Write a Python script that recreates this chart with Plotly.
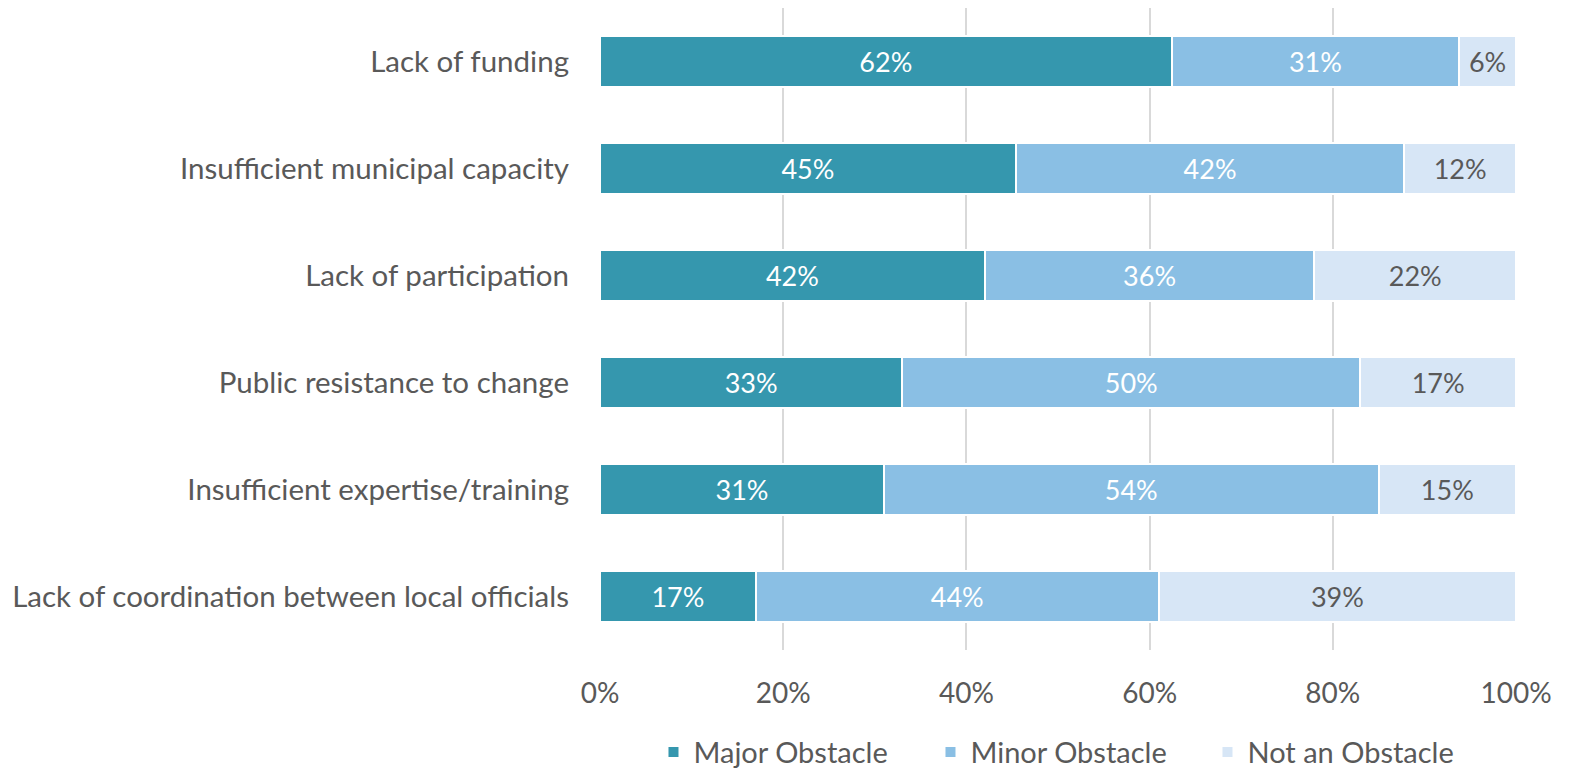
import plotly.graph_objects as go

categories = [
    "Lack of funding",
    "Insufficient municipal capacity",
    "Lack of participation",
    "Public resistance to change",
    "Insufficient expertise/training",
    "Lack of coordination between local officials",
]
major = [62.4, 45.4, 42.0, 33.0, 31.0, 17.0]
minor = [31.4, 42.4, 36.0, 50.0, 54.0, 44.0]
not_obstacle = [6.2, 12.2, 22.0, 17.0, 15.0, 39.0]
series_names = ["Major Obstacle", "Minor Obstacle", "Not an Obstacle"]
tick_vals = [0, 20, 40, 60, 80, 100]
tick_text = ["0%", "20%", "40%", "60%", "80%", "100%"]

colors = ["#3597AE", "#8ABFE4", "#D7E6F6"]
text_colors = ["white", "white", "#595959"]
FONT = "Lato"

fig = go.Figure()
for name, vals, c, tc in zip(series_names, [major, minor, not_obstacle], colors, text_colors):
    fig.add_trace(go.Bar(
        y=categories, x=vals, name=name, orientation="h",
        marker=dict(color=c, line=dict(color="white", width=2)),
        text=[f"{round(v)}%" for v in vals],
        textposition="inside", insidetextanchor="middle",
        textfont=dict(color=tc, size=27, family=FONT),
        hoverinfo="skip",
    ))

fig.update_layout(
    barmode="stack",
    bargap=0.53,
    width=1572, height=773,
    margin=dict(l=600, r=56, t=8, b=123, autoexpand=False),
    plot_bgcolor="white", paper_bgcolor="white",
    font=dict(family=FONT, color="#595959", size=28),
    legend=dict(orientation="h", x=0.512, xanchor="center", y=-0.159, yanchor="middle",
                font=dict(size=29, color="#595959", family=FONT),
                traceorder="normal", itemwidth=30, entrywidth=232),
    showlegend=True,
)
fig.update_xaxes(range=[0, 100], tickvals=tick_vals, ticktext=tick_text,
                 showgrid=True, gridcolor="#D9D9D9", gridwidth=2,
                 zeroline=False, showline=False, ticklabelstandoff=24,
                 tickfont=dict(size=28, color="#595959", family=FONT))
fig.update_yaxes(categoryorder="array", categoryarray=categories, autorange="reversed",
                 showgrid=False, zeroline=False, showline=False, ticklabelstandoff=30,
                 tickfont=dict(size=29.5, color="#595959", family=FONT))

fig.write_html("out.html")
